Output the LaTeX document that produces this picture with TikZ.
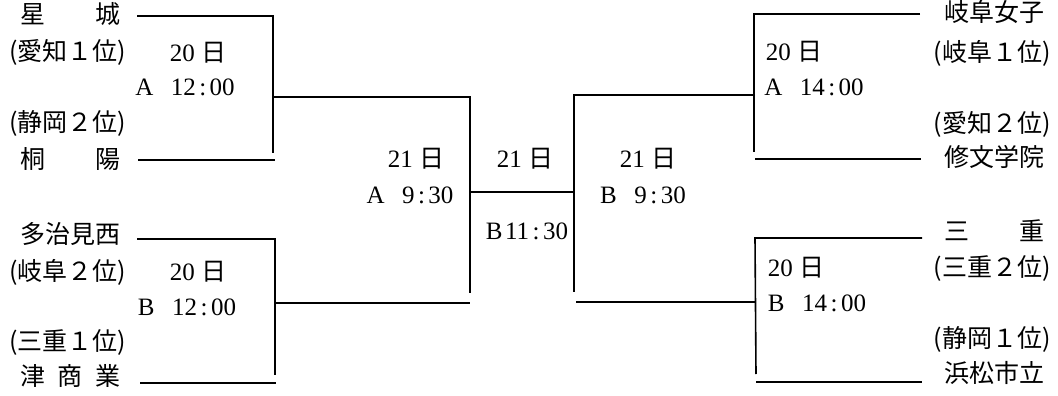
\documentclass[tikz,border=0pt]{standalone}
\usepackage{fontspec}
\setmainfont{Liberation Serif}
\newfontfamily\cjk{Noto Sans CJK JP}
\newcommand{\ko}{\hspace{0.14em}:\hspace{0.14em}}
\begin{document}
\begin{tikzpicture}[x=1pt,y=-1pt,
  br/.style={line width=1.6pt},
  team/.style={font=\fontsize{25}{25}\cjk, inner sep=0pt, text height=0.88em, text depth=0.12em, anchor=center},
  info/.style={font=\fontsize{25}{25}\selectfont, inner sep=0pt, text height=0.76em, text depth=0.1em, anchor=center}]
\useasboundingbox (0,0) rectangle (1058,396);
\fill[white] (0,0) rectangle (1058,396);

% left teams
\node[team] (t1) at (70,20) {星\hspace{2em}城};
\node[team] (t1r) at (68,57) {(愛知１位)};
\node[team] (t2r) at (68,128) {(静岡２位)};
\node[team] (t2) at (70,165) {桐\hspace{2em}陽};
\node[team] (t3) at (70,240) {多治見西};
\node[team] (t3r) at (68,277) {(岐阜２位)};
\node[team] (t4r) at (68,347) {(三重１位)};
\node[team] (t4) at (70,382) {津\hspace{0.5em}商\hspace{0.5em}業};

% right teams
\node[team] (t5) at (994,18) {岐阜女子};
\node[team] (t5r) at (992,58) {(岐阜１位)};
\node[team] (t6r) at (992,129) {(愛知２位)};
\node[team] (t6) at (994,163) {修文学院};
\node[team] (t7) at (994,237) {三\hspace{2em}重};
\node[team] (t7r) at (992,273) {(三重２位)};
\node[team] (t8r) at (992,344) {(静岡１位)};
\node[team] (t8) at (994,379) {浜松市立};

% match info
\node[info] (g1d) at (198,58) {20 {\cjk 日}};
\node[info] (g1t) at (185,92) {A\hspace{0.7em}12\ko00};
\node[info] (g2d) at (198,277) {20 {\cjk 日}};
\node[info] (g2t) at (187,312) {B\hspace{0.7em}12\ko00};
\node[info] (g3d) at (794,57) {20 {\cjk 日}};
\node[info] (g3t) at (814,92) {A\hspace{0.7em}14\ko00};
\node[info] (g4d) at (796,273) {20 {\cjk 日}};
\node[info] (g4t) at (817,308) {B\hspace{0.7em}14\ko00};
\node[info] (s1d) at (416,164) {21 {\cjk 日}};
\node[info] (s1t) at (410,200) {A\hspace{0.7em}9\ko30};
\node[info] (fd) at (525,164) {21 {\cjk 日}};
\node[info] (ft) at (527,236) {B\hspace{0.1em}11\ko30};
\node[info] (s2d) at (648,164) {21 {\cjk 日}};
\node[info] (s2t) at (643,200) {B\hspace{0.7em}9\ko30};

% bracket points
\coordinate (a1) at (137,16);  \coordinate (a2) at (273,16);  \coordinate (a3) at (273,153);
\coordinate (b1) at (138,160); \coordinate (b2) at (275,160);
\coordinate (c1) at (137,239); \coordinate (c2) at (275,239); \coordinate (c3) at (275,375);
\coordinate (d1) at (140,383); \coordinate (d2) at (276,383);
\coordinate (m1) at (273,97);  \coordinate (m2) at (470,97);  \coordinate (m3) at (470,293);
\coordinate (n1) at (275,303); \coordinate (n2) at (470,303);
\coordinate (o1) at (470,192); \coordinate (o2) at (574,192);
\coordinate (p1) at (755,95);  \coordinate (p2) at (574,95);  \coordinate (p3) at (574,292);
\coordinate (q1) at (576,302); \coordinate (q2) at (756,302);
\coordinate (r1) at (920,14);  \coordinate (r2) at (754,14);  \coordinate (r3) at (754,152);
\coordinate (s1) at (755,159); \coordinate (s2) at (921,159);
\coordinate (u1) at (922,238); \coordinate (u2) at (755,238); \coordinate (u3) at (756,374);
\coordinate (v1) at (756,382); \coordinate (v2) at (922,382);

\draw[br] (a1) -- (a2) -- (a3);
\draw[br] (b1) -- (b2);
\draw[br] (c1) -- (c2) -- (c3);
\draw[br] (d1) -- (d2);
\draw[br] (m1) -- (m2) -- (m3);
\draw[br] (n1) -- (n2);
\draw[br] (o1) -- (o2);
\draw[br] (p1) -- (p2) -- (p3);
\draw[br] (q1) -- (q2);
\draw[br] (r1) -- (r2) -- (r3);
\draw[br] (s1) -- (s2);
\draw[br] (u1) -- (u2) -- (u3);
\draw[br] (v1) -- (v2);
\end{tikzpicture}
\end{document}
